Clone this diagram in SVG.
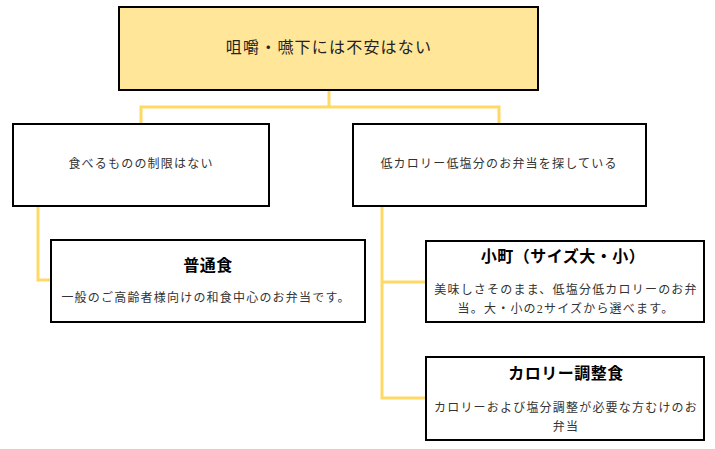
<svg xmlns="http://www.w3.org/2000/svg" width="715" height="449" viewBox="0 0 715 449">
<style>
.box{fill:#ffffff;stroke:#000000;stroke-width:2}
.top{fill:#FFE699;stroke:#000000;stroke-width:2}
.conn{fill:none;stroke:#FFD966;stroke-width:3}
text{font-family:"Liberation Serif","Noto Sans CJK JP",serif;text-anchor:middle;dominant-baseline:central}
.t16{font-size:16px;fill:#222;letter-spacing:1.2px}
.t12{font-size:12px;fill:#333;letter-spacing:1.2px}
.title{font-size:16px;font-weight:bold;fill:#000;letter-spacing:0.5px}
</style>
<g id="connectors">
<polyline class="conn" points="329,90 329,107"/>
<polyline class="conn" points="141,123 141,107 499,107 499,123"/>
<polyline class="conn" points="38,206 38,280 51,280"/>
<polyline class="conn" points="382,206 382,398 426,398"/>
<polyline class="conn" points="382,282 426,282"/>
</g>
<g id="root">
<rect class="top" x="119" y="7" width="419" height="83"/>
<text class="t16" x="329" y="47">咀嚼・嚥下には不安はない</text>
</g>
<g id="no-restriction">
<rect class="box" x="13" y="124" width="256" height="82"/>
<text class="t12" x="141" y="164">食べるものの制限はない</text>
</g>
<g id="low-calorie">
<rect class="box" x="353" y="124" width="293" height="82"/>
<text class="t12" x="499" y="164">低カロリー低塩分のお弁当を探している</text>
</g>
<g id="futsuushoku">
<rect class="box" x="51" y="240" width="314" height="82"/>
<text class="title" x="208" y="265">普通食</text>
<text class="t12" x="206" y="298">一般のご高齢者様向けの和食中心のお弁当です。</text>
</g>
<g id="komachi">
<rect class="box" x="426" y="241" width="278" height="81"/>
<text class="title" x="563" y="256">小町（サイズ大・小）</text>
<text class="t12" x="566" y="290">美味しさそのまま、低塩分低カロリーのお弁</text>
<text class="t12" x="566" y="309">当。大・小の2サイズから選べます。</text>
</g>
<g id="calorie">
<rect class="box" x="426" y="357" width="278" height="83"/>
<text class="title" x="566" y="373">カロリー調整食</text>
<text class="t12" x="566" y="408">カロリーおよび塩分調整が必要な方むけのお</text>
<text class="t12" x="566" y="427">弁当</text>
</g>
</svg>
